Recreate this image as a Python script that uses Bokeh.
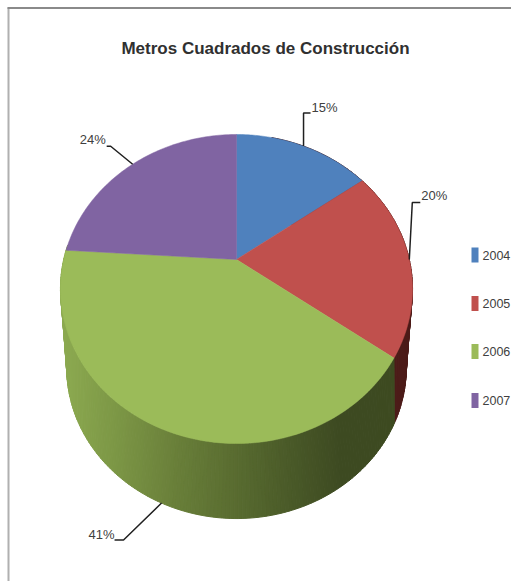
import numpy as np
from bokeh.plotting import figure
from bokeh.models import Range1d
from bokeh.core.properties import value
from bokeh.embed import file_html
from bokeh.resources import INLINE

TITLE = "Metros Cuadrados de Construcción"
years = ["2004", "2005", "2006", "2007"]
shares = [15, 20, 41, 24]
labels = ["15%", "20%", "41%", "24%"]

colors = ["#4F81BD", "#C0504D", "#9BBB59", "#8064A2"]
red_side = "#4C1B18"
side_x = [62, 83, 173, 273, 340, 420]
side_rgb = [(0x8E, 0xAC, 0x52), (0x86, 0xA3, 0x4C), (0x6A, 0x80, 0x3A), (0x4F, 0x60, 0x2B), (0x3E, 0x4B, 0x22), (0x3D, 0x4A, 0x20)]

# perspective disc: (centre x, apex y, half-width, half-height, perspective)
TOP = (236, 259, 172.8, 148.9, 0.191)
BOTTOM = (236, 325, 163, 139, 0.28)

def project(theta_deg, disc):
    cx, cy, a, b, k = disc
    t = np.radians(theta_deg)
    u, v = np.sin(t), np.cos(t)
    d = 1 + k * v
    return cx + a * u / d, cy - b * v / d

p = figure(width=511, height=581, output_backend="svg", toolbar_location=None,
           x_range=Range1d(0, 511), y_range=Range1d(581, 0),
           min_border=0, outline_line_color=None, background_fill_color="white")
p.xaxis.visible = False
p.yaxis.visible = False
p.grid.visible = False

# frame
p.line([8, 8], [7, 581], line_color="#B0B0B0", line_width=2)
p.line([7, 511], [7.5, 7.5], line_color="#8A8A8A", line_width=2)

edges = np.concatenate([[0], np.cumsum(shares)]) * 3.6

# side wall
def side_color(x):
    ch = [int(np.interp(x, side_x, [c[i] for c in side_rgb])) for i in range(3)]
    return "#%02X%02X%02X" % tuple(ch)

xs, ys, cs = [], [], []
for lo, hi, kind in [(edges[1] - 40, edges[2], "red"), (edges[2], edges[3] + 2, "green")]:
    grid = np.linspace(lo, hi, max(2, int((hi - lo) / 1.0)))
    order = grid[::-1] if kind == "green" else grid
    for t0, t1 in zip(order[:-1], order[1:]):
        x0, y0 = project(t0, TOP)
        x1, y1 = project(t1, TOP)
        x2, y2 = project(t1, BOTTOM)
        x3, y3 = project(t0, BOTTOM)
        xs.append([x0, x1, x2, x3])
        ys.append([y0, y1, y2, y3])
        cs.append(red_side if kind == "red" else side_color((x2 + x3) / 2))
p.patches(xs, ys, fill_color=cs, line_color=cs, line_width=1)

# top face
for lo, hi, c in zip(edges[:-1], edges[1:], colors):
    arc = np.linspace(lo, hi, 80)
    ax, ay = project(arc, TOP)
    p.patch(np.r_[TOP[0], ax], np.r_[TOP[1], ay], fill_color=c, line_color=c, line_width=0.5)

# leaders and labels
mids = (edges[:-1] + edges[1:]) / 2
leader_disc = [TOP, TOP, BOTTOM, TOP]
leader_bend = [(0, -33), (3, -57), (-38, 37), (-22, -18)]
leader_end = [(7, 0), (8, 0), (-9, 0), (-4, 0)]
label_off = [(1, -6), (1, -7), (-26, -6), (-27, -7)]
for m, disc, bend, end, off, txt in zip(mids, leader_disc, leader_bend, leader_end, label_off, labels):
    x0, y0 = project(m, disc)
    bx, by = x0 + bend[0], y0 + bend[1]
    ex, ey = bx + end[0], by + end[1]
    p.line([x0, bx, ex], [y0, by, ey], line_color="#202020", line_width=1.5)
    p.text([ex + off[0]], [ey + off[1]], text=[txt],
           text_font=value("Liberation Sans"), text_font_size="13px", text_color="#404040",
           text_align="left", text_baseline="middle")

# legend
legend_y = [254.5, 303, 351, 400]
for y, c, yr in zip(legend_y, colors, years):
    p.rect([474.5], [y], width=7, height=15, fill_color=c, line_color=None)
    p.text([482], [y], text=[yr], text_font=value("Liberation Sans"), text_font_size="12.5px",
           text_color="#404040", text_align="left", text_baseline="middle")

# title
p.text([265], [48], text=[TITLE], text_font=value("Liberation Sans"), text_font_size="17px",
       text_font_style="bold", text_color="#303030", text_align="center", text_baseline="middle")

open("out.html", "w").write(file_html(p, INLINE))
